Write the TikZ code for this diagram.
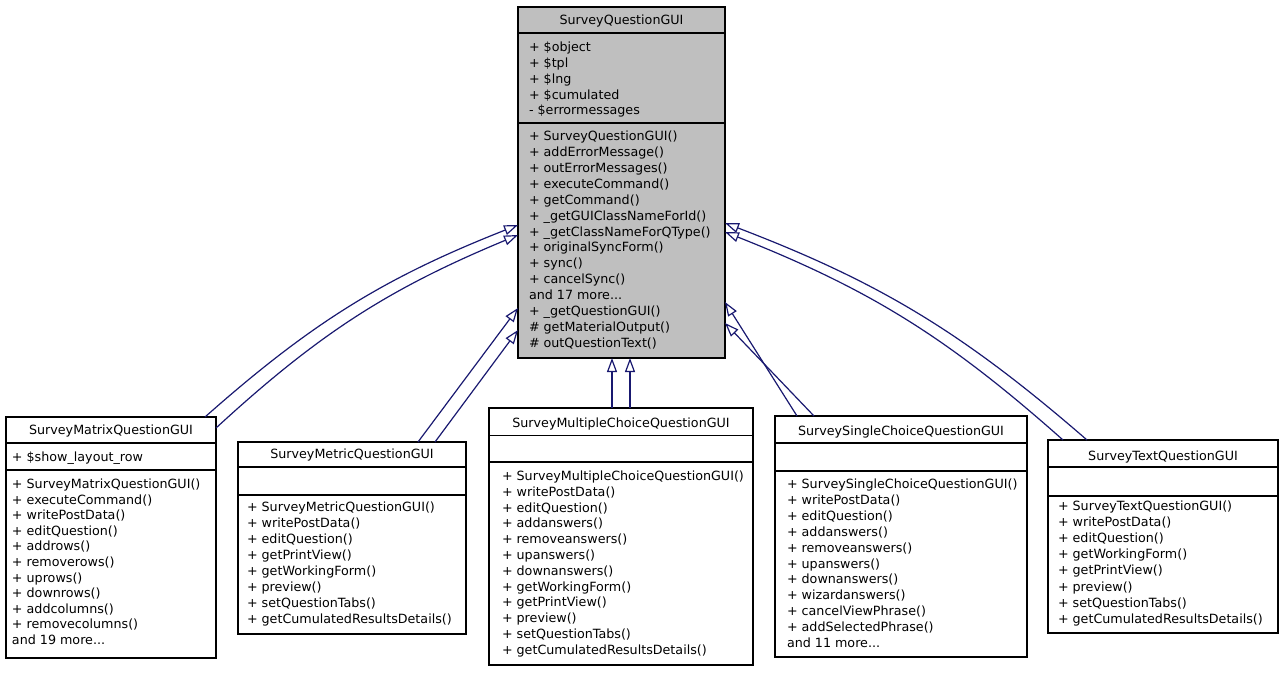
\documentclass[tikz,border=0pt]{standalone}
\usepackage{fontspec}
\setmainfont{DejaVu Sans}
\usetikzlibrary{arrows.meta,calc}
\definecolor{edgeblue}{HTML}{191970}
\definecolor{basegray}{HTML}{BFBFBF}
\newcommand{\threedots}{...}
\begin{document}
\begin{tikzpicture}[x=1pt,y=-1pt,
  every node/.style={font=\fontsize{12.7}{15}\selectfont, inner sep=0pt, outer sep=0pt},
  classbox/.style={draw=black, line width=1.3pt, fill=white, anchor=north west},
  sepline/.style={draw=black, line width=1.6pt},
  member/.style={anchor=base west},
  classtitle/.style={anchor=base},
  inherit/.style={draw=edgeblue, line width=1.2pt, -{Triangle[open, length=14pt, width=10pt]}}
]
\useasboundingbox (0,0) rectangle (1285,672);

% ---------- base class ----------
\node[classbox, fill=basegray, minimum width=207, minimum height=351] (base) at (518,7) {};
\draw[sepline] ($(base.north west)+(0,26)$) -- ($(base.north east)+(0,26)$);
\draw[sepline] ($(base.north west)+(0,116)$) -- ($(base.north east)+(0,116)$);
\node[classtitle] (base-t) at (621.5,24.5) {SurveyQuestionGUI};
\foreach \t [count=\i from 0] in {+ \$object, + \$tpl, + \$lng, + \$cumulated, - \$errormessages}
  \node[member] (base-a\i) at (529,{51.5+15.85*\i}) {\t};
\foreach \t [count=\i from 0] in {+ SurveyQuestionGUI(), + addErrorMessage(), + outErrorMessages(), + executeCommand(), + getCommand(), + \_getGUIClassNameForId(), + \_getClassNameForQType(), + originalSyncForm(), + sync(), + cancelSync(), and 17 more\threedots, + \_getQuestionGUI(), \# getMaterialOutput(), \# outQuestionText()}
  \node[member] (base-m\i) at (529,{140.5+15.92*\i}) {\t};

% ---------- SurveyMatrixQuestionGUI ----------
\node[classbox, minimum width=210, minimum height=241] (matrix) at (6,417) {};
\draw[sepline] ($(matrix.north west)+(0,26)$) -- ($(matrix.north east)+(0,26)$);
\draw[sepline] ($(matrix.north west)+(0,53)$) -- ($(matrix.north east)+(0,53)$);
\node[classtitle] (matrix-t) at (111,434.5) {SurveyMatrixQuestionGUI};
\node[member] (matrix-a0) at (12,461.5) {+ \$show\_layout\_row};
\foreach \t [count=\i from 0] in {+ SurveyMatrixQuestionGUI(), + executeCommand(), + writePostData(), + editQuestion(), + addrows(), + removerows(), + uprows(), + downrows(), + addcolumns(), + removecolumns(), and 19 more\threedots}
  \node[member] (matrix-m\i) at (12,{488.5+15.6*\i}) {\t};

% ---------- SurveyMetricQuestionGUI ----------
\node[classbox, minimum width=228, minimum height=192] (metric) at (238,442) {};
\draw[sepline] ($(metric.north west)+(0,25)$) -- ($(metric.north east)+(0,25)$);
\draw[sepline] ($(metric.north west)+(0,53)$) -- ($(metric.north east)+(0,53)$);
\node[classtitle] (metric-t) at (352,458.5) {SurveyMetricQuestionGUI};
\foreach \t [count=\i from 0] in {+ SurveyMetricQuestionGUI(), + writePostData(), + editQuestion(), + getPrintView(), + getWorkingForm(), + preview(), + setQuestionTabs(), + getCumulatedResultsDetails()}
  \node[member] (metric-m\i) at (247,{511.5+16*\i}) {\t};

% ---------- SurveyMultipleChoiceQuestionGUI ----------
\node[classbox, minimum width=264, minimum height=257] (multi) at (489,408) {};
\draw[sepline] ($(multi.north west)+(0,27.5)$) -- ($(multi.north east)+(0,27.5)$);
\draw[sepline] ($(multi.north west)+(0,54)$) -- ($(multi.north east)+(0,54)$);
\node[classtitle] (multi-t) at (621,427.5) {SurveyMultipleChoiceQuestionGUI};
\foreach \t [count=\i from 0] in {+ SurveyMultipleChoiceQuestionGUI(), + writePostData(), + editQuestion(), + addanswers(), + removeanswers(), + upanswers(), + downanswers(), + getWorkingForm(), + getPrintView(), + preview(), + setQuestionTabs(), + getCumulatedResultsDetails()}
  \node[member] (multi-m\i) at (502,{480.5+15.8*\i}) {\t};

% ---------- SurveySingleChoiceQuestionGUI ----------
\node[classbox, minimum width=252, minimum height=241] (single) at (775,416) {};
\draw[sepline] ($(single.north west)+(0,27)$) -- ($(single.north east)+(0,27)$);
\draw[sepline] ($(single.north west)+(0,55)$) -- ($(single.north east)+(0,55)$);
\node[classtitle] (single-t) at (901,435.5) {SurveySingleChoiceQuestionGUI};
\foreach \t [count=\i from 0] in {+ SurveySingleChoiceQuestionGUI(), + writePostData(), + editQuestion(), + addanswers(), + removeanswers(), + upanswers(), + downanswers(), + wizardanswers(), + cancelViewPhrase(), + addSelectedPhrase(), and 11 more\threedots}
  \node[member] (single-m\i) at (787,{488.5+15.9*\i}) {\t};

% ---------- SurveyTextQuestionGUI ----------
\node[classbox, minimum width=230, minimum height=193] (text) at (1048,440) {};
\draw[sepline] ($(text.north west)+(0,27)$) -- ($(text.north east)+(0,27)$);
\draw[sepline] ($(text.north west)+(0,56)$) -- ($(text.north east)+(0,56)$);
\node[classtitle] (text-t) at (1163,460.5) {SurveyTextQuestionGUI};
\foreach \t [count=\i from 0] in {+ SurveyTextQuestionGUI(), + writePostData(), + editQuestion(), + getWorkingForm(), + getPrintView(), + preview(), + setQuestionTabs(), + getCumulatedResultsDetails()}
  \node[member] (text-m\i) at (1058,{510.5+16.1*\i}) {\t};

% ---------- inheritance connectors ----------
\draw[inherit] ($(matrix.north west)+(199,0)$) to[bend left=10] ($(base.north west)+(0,218)$);
\draw[inherit] ($(matrix.north east)+(0,11)$) to[bend left=10] ($(base.north west)+(0,228)$);
\draw[inherit] ($(metric.north west)+(180,0)$) -- ($(base.north west)+(0,301)$);
\draw[inherit] ($(metric.north west)+(197,0)$) -- ($(base.north west)+(0,323)$);
\draw[inherit] ($(multi.north west)+(123,0)$) -- ($(base.south west)+(94,0)$);
\draw[inherit] ($(multi.north west)+(141,0)$) -- ($(base.south west)+(112,0)$);
\draw[inherit] ($(single.north west)+(22,0)$) -- ($(base.north east)+(0,295)$);
\draw[inherit] ($(single.north west)+(39,0)$) -- ($(base.north east)+(0,316)$);
\draw[inherit] ($(text.north west)+(39,0)$) to[bend right=10] ($(base.north east)+(0,216)$);
\draw[inherit] ($(text.north west)+(15,0)$) to[bend right=10] ($(base.north east)+(0,225)$);
\end{tikzpicture}
\end{document}
